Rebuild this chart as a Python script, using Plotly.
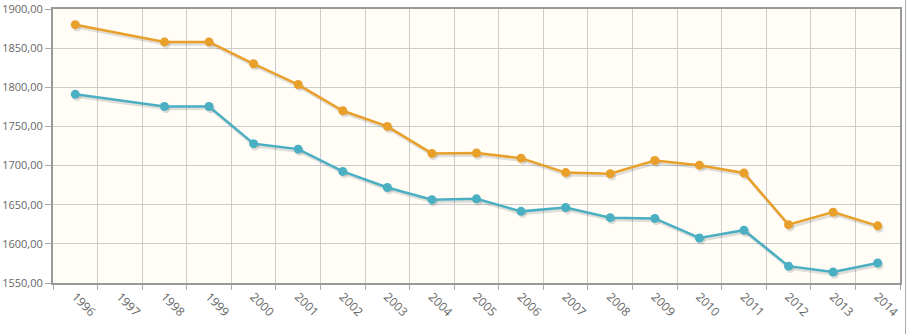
import plotly.graph_objects as go

years = [str(y) for y in range(1996, 2015)]
orange_vals = [1880, None, 1858, 1858, 1830, 1803.5, 1770, 1750, 1715.5, 1716, 1709.5,
               1691, 1689.5, 1706.5, 1700.5, 1690.5, 1624.5, 1640.5, 1623]
teal_vals = [1791, None, 1775.5, 1775.5, 1728, 1721, 1692.5, 1672, 1656.5, 1657.5, 1641.5,
             1646.5, 1633.5, 1632.5, 1607.5, 1617.5, 1571.5, 1564, 1575.5]
y_ticks = [1550, 1600, 1650, 1700, 1750, 1800, 1850, 1900]

ORANGE = "#E9A02A"
TEAL = "#4AAFC3"
FONT = "Open Sans"

y_range = [1550, 1900]
x_range = [-0.5, 18.5]
# shadow offsets in axis units (~2px down, ~1.5px right)
dy = 2.3 * (y_range[1] - y_range[0]) / 274
dx = 1.5 * (x_range[1] - x_range[0]) / 847

fig = go.Figure()

# invisible trace to keep the base axes active
fig.add_trace(go.Scatter(x=years, y=[None] * len(years), mode="lines",
                         showlegend=False, hoverinfo="skip"))

for vals, name in [(orange_vals, "shadow1"), (teal_vals, "shadow2")]:
    fig.add_trace(go.Scatter(
        x=years, y=vals, mode="lines+markers", connectgaps=True,
        line=dict(color="rgba(0,0,0,0.12)", width=3),
        marker=dict(size=9, color="rgba(0,0,0,0.12)"),
        xaxis="x2", yaxis="y2", showlegend=False, hoverinfo="skip", name=name))

for vals, color, name in [(orange_vals, ORANGE, "Serie 1"), (teal_vals, TEAL, "Serie 2")]:
    fig.add_trace(go.Scatter(
        x=years, y=vals, mode="lines+markers", connectgaps=True,
        line=dict(color=color, width=2.5),
        marker=dict(size=9, color=color),
        xaxis="x3", yaxis="y3", showlegend=False, name=name))

hidden_x = dict(type="category", categoryorder="array", categoryarray=years,
                overlaying="x", visible=False, showgrid=False, fixedrange=True)
hidden_y = dict(overlaying="y", visible=False, showgrid=False, fixedrange=True)

fig.update_layout(
    width=910, height=334,
    margin=dict(l=53, r=10, t=9, b=51),
    paper_bgcolor="white",
    plot_bgcolor="#FFFDF6",
    separators=",.",
    font=dict(family=FONT, size=12, color="#666666"),
    xaxis=dict(
        type="category", categoryorder="array", categoryarray=years,
        range=x_range, tickson="boundaries", automargin=False,
        showgrid=True, gridcolor="#CCCCCC", gridwidth=1,
        ticks="outside", ticklen=5, tickcolor="#AAAAAA",
        tickangle=45, tickfont=dict(family=FONT, size=12, color="#666666"),
        showline=True, linecolor="#999999", linewidth=2, mirror=True,
        zeroline=False, fixedrange=True,
    ),
    yaxis=dict(
        range=y_range, tickvals=y_ticks, tickformat=".2f", automargin=False,
        showgrid=True, gridcolor="#CCCCCC", gridwidth=1,
        ticks="outside", ticklen=6, tickcolor="#AAAAAA",
        tickfont=dict(family=FONT, size=11, color="#666666"),
        showline=True, linecolor="#999999", linewidth=2, mirror=True,
        zeroline=False, fixedrange=True,
    ),
    xaxis2=dict(hidden_x, range=[x_range[0] - dx, x_range[1] - dx]),
    yaxis2=dict(hidden_y, range=[y_range[0] + dy, y_range[1] + dy]),
    xaxis3=dict(hidden_x, range=x_range),
    yaxis3=dict(hidden_y, range=y_range),
    shapes=[dict(type="line", xref="paper", yref="paper",
                 x0=1.0065, x1=1.0065, y0=-0.19, y1=1.04,
                 line=dict(color="#AAAAAA", width=1))],
)

fig.write_html("out.html")
